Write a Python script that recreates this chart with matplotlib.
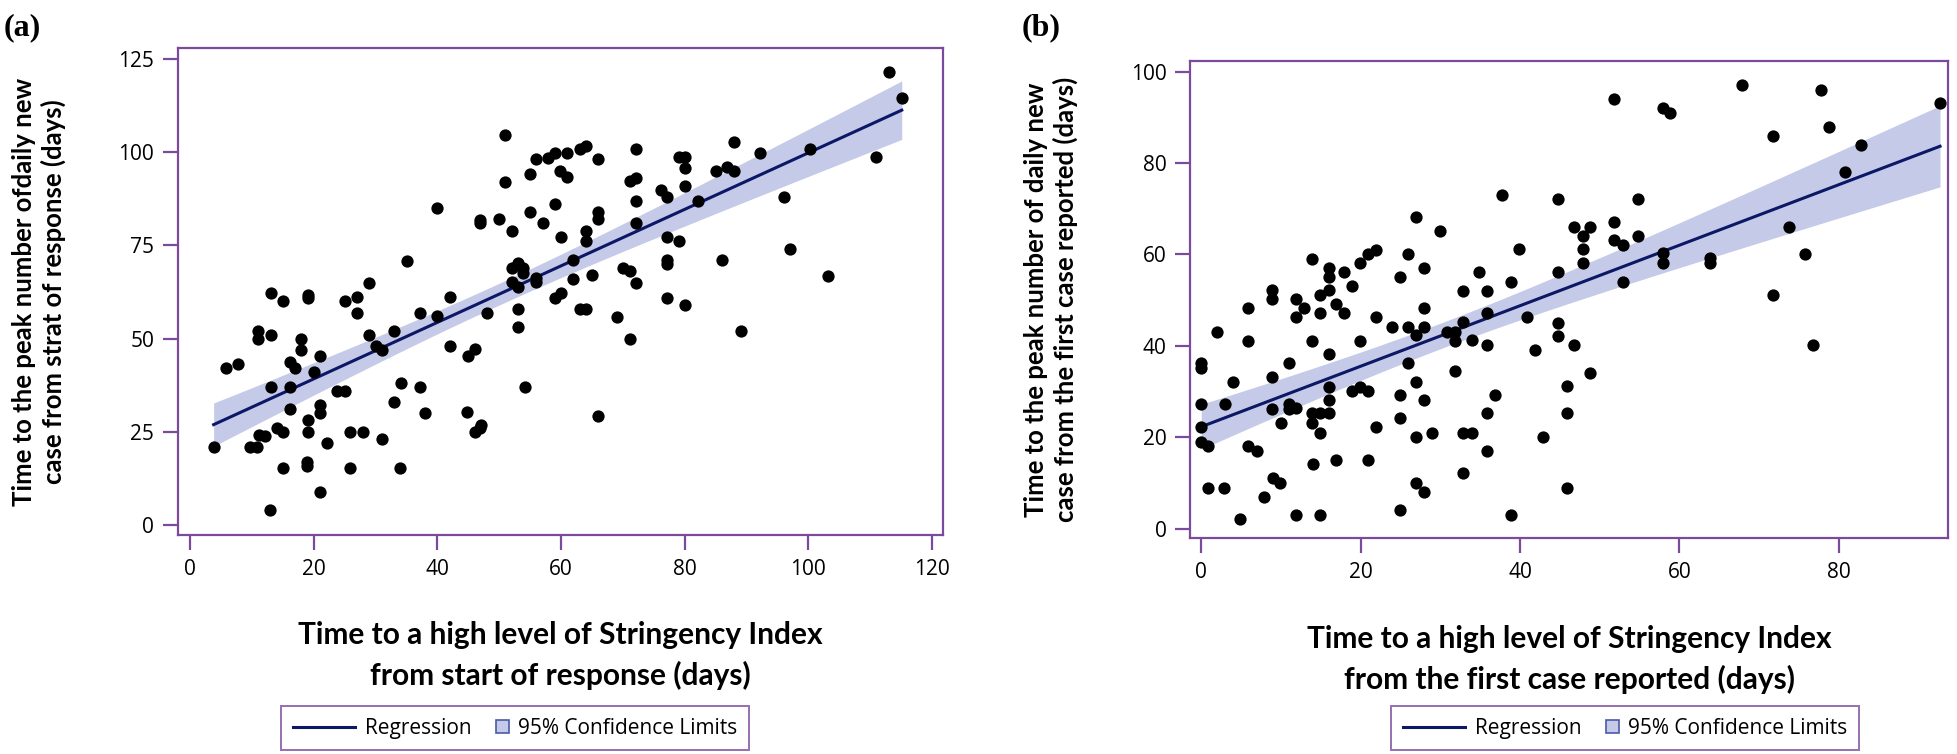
import numpy as np
import matplotlib
matplotlib.use('Agg')
import matplotlib.pyplot as plt
from matplotlib.lines import Line2D
from matplotlib.patches import Patch, Rectangle
from matplotlib.legend_handler import HandlerPatch

# panel (a): time to high stringency vs time to peak, from start of response
x_a = [3.8, 5.8, 7.8, 9.7, 10.8, 10.9, 10.9, 13.1, 13.1, 13.1, 11.1, 12.1, 14.0, 15.0, 15.0,
       16.1, 17.0, 16.1, 16.1, 18.0, 18.0, 19.1, 19.1, 19.0, 19.0, 21.0, 20.0, 21.0, 21.0, 22.1,
       25.1, 27.0, 27.0, 23.7, 25.1, 25.9, 27.9, 28.9, 28.9, 30.0, 31.1, 31.0, 33.0, 33.0, 34.1,
       35.0, 37.1, 37.1, 38.0, 40.0, 39.9, 42.1, 42.1, 45.0, 46.1, 44.8, 15.0, 18.9, 18.9, 21.0,
       12.9, 25.9, 34.0, 46.0, 46.9, 47.0, 54.1, 48.0, 46.9, 46.9, 50.0, 51.0, 51.0, 52.0, 52.0,
       53.0, 53.9, 53.9, 53.0, 52.0, 56.0, 56.0, 53.0, 53.0, 55.0, 56.0, 55.0, 57.1, 57.9, 59.0,
       61.0, 59.9, 61.0, 59.0, 60.0, 59.0, 60.0, 62.0, 62.0, 63.0, 64.1, 66.0, 63.0, 64.1, 64.1,
       64.1, 65.0, 66.0, 66.0, 66.0, 69.0, 70.0, 71.1, 72.1, 71.1, 72.1, 71.1, 72.1, 72.1, 72.1,
       76.1, 77.1, 77.1, 79.0, 77.1, 77.1, 77.1, 80.1, 79.0, 80.1, 80.1, 80.1, 82.2, 85.0, 86.0,
       86.9, 88.0, 88.0, 89.1, 92.1, 100.2, 96.1, 97.1, 103.1, 111.0, 113.1, 115.1]
y_a = [21.0, 42.0, 43.2, 21.0, 21.0, 52.1, 49.8, 50.9, 62.2, 37.1, 24.1, 23.9, 25.9, 25.0, 60.1,
       43.8, 42.0, 37.1, 31.0, 50.0, 46.9, 61.6, 60.8, 28.2, 25.0, 45.2, 41.0, 32.2, 30.0, 21.9,
       60.1, 61.2, 57.0, 36.0, 36.0, 25.0, 25.0, 65.0, 51.0, 48.0, 46.9, 23.0, 52.0, 33.1, 38.0,
       70.9, 57.0, 37.1, 30.0, 85.1, 56.1, 61.1, 48.0, 45.2, 47.1, 30.2, 15.2, 17.0, 15.8, 8.9,
       4.0, 15.2, 15.2, 25.0, 25.9, 26.8, 36.9, 57.0, 81.8, 80.9, 82.0, 104.7, 92.1, 78.9, 69.0,
       70.4, 69.0, 67.5, 63.9, 65.3, 66.3, 65.3, 57.9, 53.0, 94.1, 98.1, 84.0, 81.1, 98.6, 99.7,
       99.7, 95.0, 93.3, 86.0, 77.2, 61.0, 62.2, 71.1, 66.0, 100.8, 101.7, 98.1, 58.0, 58.0, 78.9,
       76.1, 67.0, 84.0, 82.0, 29.1, 55.9, 69.0, 68.1, 65.0, 49.9, 100.8, 92.2, 93.1, 87.0, 81.1,
       90.0, 88.1, 77.2, 76.1, 71.1, 70.0, 61.0, 59.0, 98.8, 98.8, 95.9, 91.0, 87.0, 94.9, 71.1,
       96.1, 94.9, 102.7, 52.0, 99.7, 100.8, 88.1, 74.0, 66.9, 98.8, 121.6, 114.7]

# panel (b): same, counted from the first case reported
x_b = [0, 0, 0, 0, 0, 0.9, 2.0, 3.0, 4.0, 5.9, 5.9, 5.9, 7.0, 8.9, 8.9, 8.9, 8.9, 10.0, 11.0,
       11.0, 11.9, 11.0, 11.9, 12.9, 11.9, 13.9, 13.9, 13.9, 14.9, 16.0, 13.9, 14.9, 14.9, 16.0,
       16.0, 16.0, 14.9, 16.9, 17.9, 17.9, 16.0, 16.0, 16.0, 18.9, 19.9, 20.9, 21.9, 19.9, 18.9,
       19.9, 20.9, 21.9, 21.9, 23.9, 24.9, 25.9, 26.9, 25.9, 25.9, 26.9, 24.9, 26.9, 24.9, 26.9,
       0.9, 2.9, 4.9, 7.9, 9.0, 9.9, 11.9, 14.0, 14.9, 16.9, 20.9, 24.9, 27.9, 27.9, 27.9, 26.9,
       27.9, 28.9, 30.8, 31.9, 31.9, 32.9, 31.9, 32.9, 34.0, 32.9, 34.0, 35.8, 35.8, 36.9, 35.8,
       35.8, 38.9, 40.9, 41.9, 42.9, 44.8, 44.8, 45.9, 45.9, 45.9, 46.8, 29.9, 27.9, 32.9, 34.9,
       35.8, 37.8, 38.9, 39.9, 44.8, 44.8, 48.8, 46.8, 48.8, 47.9, 47.9, 47.9, 51.8, 51.8, 51.8,
       52.9, 52.9, 54.8, 54.8, 57.9, 58.8, 57.9, 57.9, 63.8, 63.8, 67.8, 71.8, 71.8, 73.8, 75.8,
       76.8, 77.8, 78.8, 80.8, 82.8, 92.7]
y_b = [36.3, 35.1, 27.2, 22.2, 19.0, 18.1, 43.1, 27.2, 32.2, 48.2, 41.1, 18.1, 17.1, 52.2, 50.2,
       33.1, 26.1, 23.1, 36.3, 27.2, 26.3, 26.1, 50.2, 48.2, 46.3, 59.1, 41.1, 25.4, 25.4, 25.4,
       23.1, 21.0, 51.1, 52.2, 57.0, 55.0, 47.1, 49.2, 56.2, 47.1, 38.2, 31.1, 28.2, 53.1, 58.2,
       60.0, 61.0, 41.1, 30.2, 31.1, 30.2, 46.3, 22.2, 44.1, 55.0, 60.0, 68.1, 44.1, 36.2, 42.4,
       29.3, 32.2, 24.2, 20.1, 9.0, 9.0, 2.1, 7.0, 11.0, 10.1, 3.0, 14.1, 3.0, 15.0, 15.0, 4.1,
       28.2, 44.2, 48.2, 10.1, 8.0, 21.0, 43.1, 43.1, 41.1, 45.3, 34.4, 21.0, 21.0, 12.1, 41.3,
       47.1, 40.2, 29.3, 25.3, 17.0, 3.0, 46.3, 39.1, 20.0, 45.1, 42.2, 31.2, 25.3, 9.0, 40.2,
       65.1, 57.0, 52.1, 56.1, 52.1, 73.0, 54.0, 61.1, 72.1, 56.1, 34.1, 66.1, 66.1, 64.0, 61.1,
       58.2, 94.0, 67.0, 63.2, 62.1, 54.0, 72.1, 64.0, 92.0, 90.9, 60.3, 58.2, 59.2, 58.2, 97.1,
       85.9, 51.1, 66.1, 60.0, 40.2, 96.0, 88.0, 78.0, 84.0, 93.1]

xticks_a = [0, 20, 40, 60, 80, 100, 120]
yticks_a = [0, 25, 50, 75, 100, 125]
xticks_b = [0, 20, 40, 60, 80]
yticks_b = [0, 20, 40, 60, 80, 100]

purple = '#7b4a9c'
navy = '#0c1766'
band = '#c5cae8'
T975 = 1.976  # t quantile, n ~ 145


def fit_clm(x, y):
    x = np.asarray(x, float)
    y = np.asarray(y, float)
    n = len(x)
    b, a = np.polyfit(x, y, 1)
    resid = y - (a + b * x)
    s = np.sqrt(np.sum(resid ** 2) / (n - 2))
    sxx = np.sum((x - x.mean()) ** 2)
    xs = np.linspace(x.min(), x.max(), 200)
    yh = a + b * xs
    half = T975 * s * np.sqrt(1 / n + (xs - x.mean()) ** 2 / sxx)
    return xs, yh, yh - half, yh + half


def draw_panel(ax, x, y, xticks, yticks, xlim, ylim, xlabel, ylabel):
    xs, yh, lo, hi = fit_clm(x, y)
    ax.fill_between(xs, lo, hi, color=band, lw=0, zorder=1)
    ax.plot(xs, yh, color=navy, lw=2.2, zorder=2)
    ax.scatter(x, y, s=78, color='black', zorder=3, linewidths=0)
    ax.set_xlim(xlim)
    ax.set_ylim(ylim)
    ax.set_xticks(xticks)
    ax.set_yticks(yticks)
    for sp in ax.spines.values():
        sp.set_color(purple)
        sp.set_linewidth(1.6)
    ax.tick_params(direction='out', length=11, width=1.6, color=purple,
                   labelsize=15, pad=6)
    for lab in ax.get_xticklabels() + ax.get_yticklabels():
        lab.set_family('Open Sans')
    ax.set_xlabel(xlabel, fontsize=21.5, fontweight='bold', family='Lato', labelpad=30,
                  linespacing=1.5)
    ax.set_ylabel(ylabel, fontsize=18.5, fontweight='bold', family='Lato', labelpad=38,
                  linespacing=1.2)


# small square legend key sitting just before its text
def square_key(legend, orig_handle, xdescent, ydescent, width, height, fontsize):
    sq = 0.62 * fontsize
    return Rectangle((-xdescent + width - sq, -ydescent + (height - sq) / 2), sq, sq)


fig = plt.figure(figsize=(19.58, 7.54), dpi=100)
ax1 = fig.add_axes([0.0908, 0.2905, 0.3909, 0.6459])
ax2 = fig.add_axes([0.6078, 0.2861, 0.3871, 0.6334])

draw_panel(ax1, x_a, y_a, xticks_a, yticks_a, (-2.0, 121.8), (-2.7, 128),
           'Time to a high level of Stringency Index\nfrom start of response (days)',
           'Time to the peak number ofdaily new\ncase from strat of response (days)')
draw_panel(ax2, x_b, y_b, xticks_b, yticks_b, (-1.4, 93.7), (-2.1, 102.4),
           'Time to a high level of Stringency Index\nfrom the first case reported (days)',
           'Time to the peak number of daily new\ncase from the first case reported (days)')

fig.text(0.002, 0.982, '(a)', fontsize=23, fontweight='bold', family='Liberation Serif', va='top')
fig.text(0.522, 0.982, '(b)', fontsize=23, fontweight='bold', family='Liberation Serif', va='top')

handles = [Line2D([0], [0], color=navy, lw=2.2),
           Patch(facecolor=band, edgecolor='#4a5aa8', lw=1.2)]
labels = ['Regression', '95% Confidence Limits']
for cx in (0.263, 0.830):
    leg = fig.legend(handles, labels, loc='center', bbox_to_anchor=(cx, 0.034), ncol=2,
                     fancybox=False, frameon=True, handlelength=3.0, handleheight=0.7,
                     columnspacing=-1.2, borderpad=0.55, handletextpad=0.45,
                     handler_map={Patch: HandlerPatch(patch_func=square_key)},
                     prop={'family': 'Open Sans', 'size': 15})
    leg.get_frame().set_edgecolor(purple)
    leg.get_frame().set_linewidth(1.4)

fig.savefig('out.png', dpi=100)
